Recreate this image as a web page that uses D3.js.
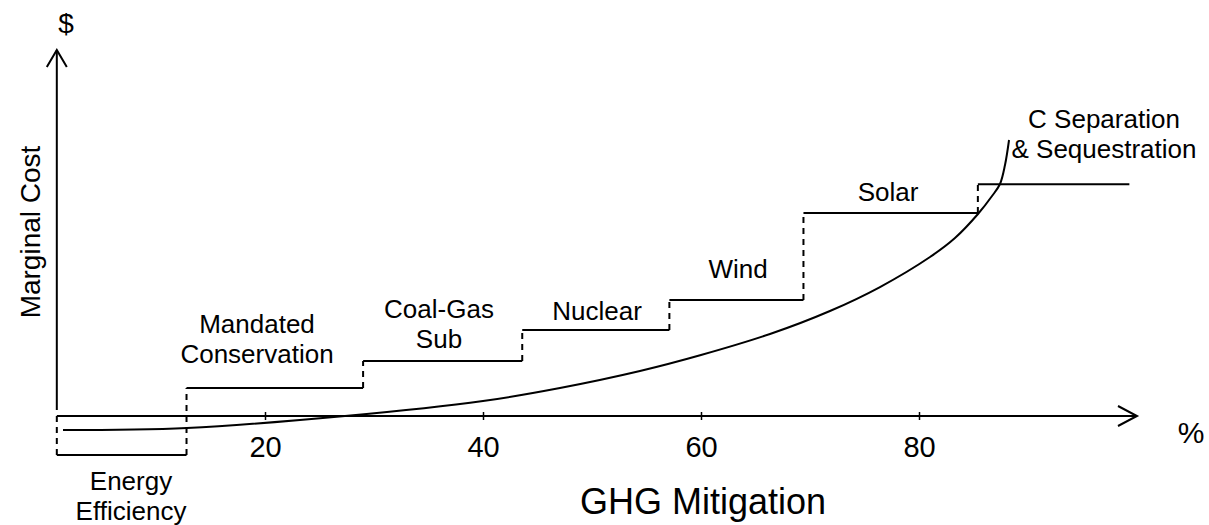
<!DOCTYPE html>
<html>
<head>
<meta charset="utf-8">
<script src="https://cdn.jsdelivr.net/npm/d3@7"></script>
<style>
  html, body { margin: 0; padding: 0; background: #fff; }
  svg { display: block; }
  text { font-family: "Liberation Sans", Arial, sans-serif; fill: #000; }
</style>
</head>
<body>
<svg id="chart" width="1209" height="525"></svg>
<script>
// ---- data ----
const categories = ["Energy Efficiency", "Mandated Conservation", "Coal-Gas Sub", "Nuclear", "Wind", "Solar", "C Separation & Sequestration"];
const labelLines = [["Energy", "Efficiency"], ["Mandated", "Conservation"], ["Coal-Gas", "Sub"], ["Nuclear"], ["Wind"], ["Solar"], ["C Separation", "& Sequestration"]];
const stepStart = [0.9, 12.8, 29.0, 43.6, 57.1, 69.4, 85.4];
const stepEnd   = [12.8, 29.0, 43.6, 57.1, 69.4, 85.4, 99.3];
const stepCost  = [-10.8, 7.8, 15.3, 23.9, 32.2, 56.4, 64.4];
const curveX = [1.47, 12.84, 27.34, 40.0, 47.06, 54.40, 60.0, 66.33, 71.83, 76.42, 81.01, 83.30, 85.41, 86.70, 87.43, 87.89, 88.26];
const curveY = [-3.89, -3.33, 0, 4.17, 7.78, 12.5, 16.94, 22.78, 29.17, 35.83, 44.17, 49.44, 56.11, 61.11, 64.44, 69.72, 76.67];
const tickValues = [20, 40, 60, 80];
const xTitle = "GHG Mitigation";
const yTitle = "Marginal Cost";
const xUnit = "%";
const yUnit = "$";

// ---- layout ----
const svg = d3.select("#chart");
const x = d3.scaleLinear().domain([0, 100]).range([47, 1137]);
const y = d3.scaleLinear().domain([0, 100]).range([416, 56]);
const axisX0 = 0.9;          // where the vertical axis sits
const yTop = 50;             // arrow tip of vertical axis (px)
// label anchor positions: [centerX, baseline of first line]
const labelPos = [[131, 490], [257, 333], [439, 318], [597, 320], [738, 278], [888, 201], [1104, 128]];
const lineGap = 30;
const sw = 2;

// x axis line with arrow
const gAx = svg.append("g").attr("stroke", "#000").attr("stroke-width", sw).attr("fill", "none");
gAx.append("line").attr("x1", x(axisX0)).attr("x2", x(100)).attr("y1", y(0)).attr("y2", y(0));
gAx.append("polyline").attr("points", [[x(100) - 19, y(0) - 10], [x(100), y(0)], [x(100) - 19, y(0) + 10]].map(p => p.join(",")).join(" "));
// y axis line with arrow
gAx.append("line").attr("x1", x(axisX0)).attr("x2", x(axisX0)).attr("y1", yTop).attr("y2", y(0) - 6);
gAx.append("polyline").attr("points", [[x(axisX0) - 10, yTop + 17], [x(axisX0), yTop], [x(axisX0) + 10, yTop + 17]].map(p => p.join(",")).join(" "));

// ticks via d3 axis
const xAxis = d3.axisBottom(x).tickValues(tickValues).tickSize(0).tickPadding(0);
const gx = svg.append("g").attr("transform", `translate(0,${y(0)})`).call(xAxis);
gx.select(".domain").remove();
gx.selectAll(".tick").append("line").attr("y1", -4).attr("y2", 4).attr("stroke", "#000").attr("stroke-width", 1.5);
gx.selectAll(".tick text").attr("y", 41).attr("dy", null).style("font-size", "29px").style("font-family", '"Liberation Sans", Arial, sans-serif').attr("fill", "#000");

// steps
const gS = svg.append("g").attr("stroke", "#000").attr("stroke-width", sw).attr("fill", "none");
categories.forEach((c, i) => {
  gS.append("line").attr("x1", x(stepStart[i])).attr("x2", x(stepEnd[i]))
    .attr("y1", y(stepCost[i])).attr("y2", y(stepCost[i]));
  const prev = i === 0 ? 0 : stepCost[i - 1];
  gS.append("line").attr("x1", x(stepStart[i])).attr("x2", x(stepStart[i]))
    .attr("y1", y(prev)).attr("y2", y(stepCost[i]))
    .attr("stroke-dasharray", "6,5");
});

// curve
const line = d3.line().x(d => x(d[0])).y(d => y(d[1])).curve(d3.curveCatmullRom.alpha(0.5));
svg.append("path").datum(curveX.map((v, i) => [v, curveY[i]]))
  .attr("d", line).attr("fill", "none").attr("stroke", "#000").attr("stroke-width", sw);

// labels
categories.forEach((c, i) => {
  const t = svg.append("text").attr("text-anchor", "middle").style("font-size", "26px");
  labelLines[i].forEach((ln, j) => {
    t.append("tspan").attr("x", labelPos[i][0]).attr("y", labelPos[i][1] + j * lineGap).text(ln);
  });
});

// titles
svg.append("text").attr("x", 703).attr("y", 514).attr("text-anchor", "middle").style("font-size", "36px").text(xTitle);
svg.append("text").attr("transform", "translate(40,232) rotate(-90)").attr("text-anchor", "middle").style("font-size", "28px").text(yTitle);
svg.append("text").attr("x", 66).attr("y", 33).attr("text-anchor", "middle").style("font-size", "28px").text(yUnit);
svg.append("text").attr("x", 1191).attr("y", 443).attr("text-anchor", "middle").style("font-size", "30px").text(xUnit);
</script>
</body>
</html>
